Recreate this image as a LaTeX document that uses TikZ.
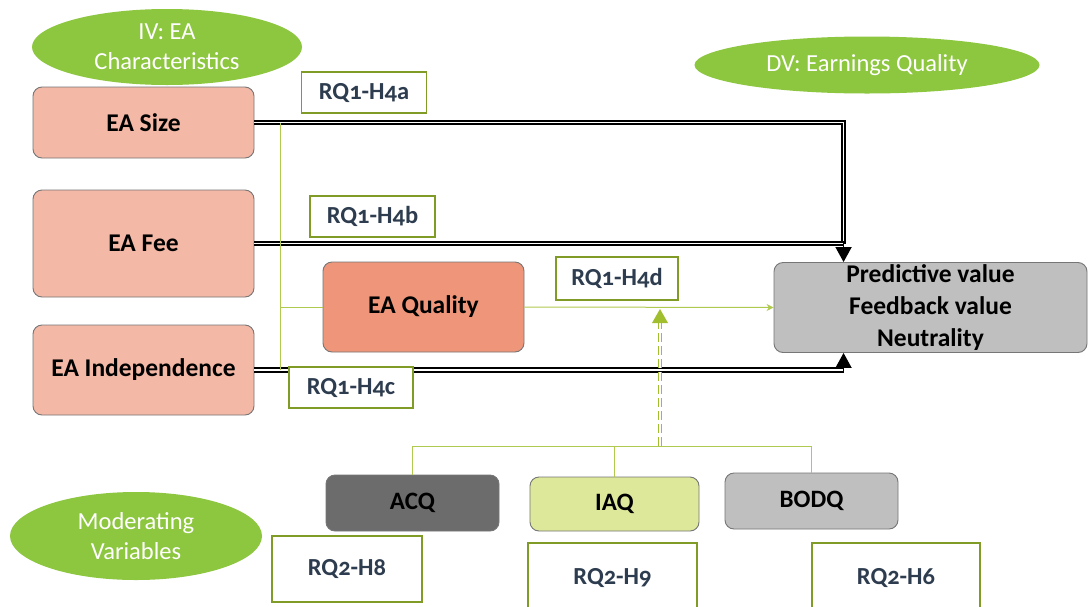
\documentclass[tikz,border=0pt]{standalone}
\usepackage{fontspec}
\setmainfont{Carlito}[Numbers=OldStyle]
\usetikzlibrary{arrows.meta,calc,shapes.geometric}

\definecolor{ovalgreen}{RGB}{141,198,63}
\definecolor{catpink}{RGB}{244,184,166}
\definecolor{qualpink}{RGB}{239,150,122}
\definecolor{boxedge}{RGB}{118,118,118}
\definecolor{outgray}{RGB}{191,191,191}
\definecolor{acqgray}{RGB}{108,108,108}
\definecolor{iaqyellow}{RGB}{221,232,155}
\definecolor{tagline}{RGB}{128,155,38}
\definecolor{tagtext}{RGB}{45,60,78}
\definecolor{linkgreen}{RGB}{176,202,80}
\definecolor{modgreen}{RGB}{160,190,45}

\tikzset{
  oval/.style={ellipse, fill=ovalgreen, draw=none, text=white, inner sep=0pt,
    align=center, font=\fontsize{24.5}{30}\selectfont},
  catbox/.style={draw=boxedge, line width=0.9pt, rounded corners=9pt, fill=catpink,
    inner sep=0pt, align=center, font=\bfseries\fontsize{25.5}{32}\selectfont},
  modbox/.style={catbox, font=\bfseries\fontsize{25}{30}\selectfont},
  tag/.style={draw=tagline, line width=1.4pt, fill=white, text=tagtext, inner sep=0pt,
    font=\bfseries\fontsize{24.5}{28}\selectfont},
  dbl/.style={draw=black, line width=1.8pt, double=white, double distance=1.7pt},
  tipdown/.style={line width=1.6pt, -{Triangle[length=15pt,width=16pt]}},
  gline/.style={draw=linkgreen, line width=1pt},
  modlink/.style={draw=modgreen, line width=1pt, double=white, double distance=2.6pt,
    dash pattern=on 9pt off 4pt}
}

\begin{document}
\begin{tikzpicture}[x=1pt,y=-1pt]
\path[use as bounding box, fill=white] (0,0) rectangle (1088,606);
\clip (0,0) rectangle (1088,606);

% group labels
\node[oval, minimum width=270pt, minimum height=76pt] (iv) at (167,47) {IV: EA\\Characteristics};
\node[oval, minimum width=345pt, minimum height=57pt] (dv) at (867,65) {DV: Earnings Quality};
\node[oval, minimum width=252pt, minimum height=88pt] (mv) at (136,536) {Moderating\\Variables};

% independent variables
\node[catbox, minimum width=221pt, minimum height=71pt] (size) at (143.5,122.5) {EA Size};
\node[catbox, minimum width=221pt, minimum height=107pt] (fee) at (143.5,243.5) {EA Fee};
\node[catbox, minimum width=221pt, minimum height=90pt] (ind) at (143.5,370) {EA Independence};
\node[catbox, fill=qualpink, minimum width=201pt, minimum height=90pt] (qual) at (423.5,307) {EA Quality};

% dependent variable
\node[catbox, fill=outgray, minimum width=313pt, minimum height=90pt] (pv) at (930.5,307.5)
  {Predictive value\\Feedback value\\Neutrality};

% moderators
\node[modbox, fill=acqgray, minimum width=173pt, minimum height=56pt] (acq) at (412.5,503) {ACQ};
\node[modbox, fill=iaqyellow, minimum width=169pt, minimum height=54pt] (iaq) at (614.5,504) {IAQ};
\node[modbox, fill=outgray, minimum width=173pt, minimum height=56pt] (bodq) at (811.5,501) {BODQ};

% hypothesis tags
\node[tag, minimum width=125pt, minimum height=41pt] (h4a) at (364,92.5) {RQ1-H4a};
\node[tag, minimum width=125pt, minimum height=41pt] (h4b) at (372.5,216.5) {RQ1-H4b};
\node[tag, minimum width=122pt, minimum height=43pt] (h4d) at (617,278.5) {RQ1-H4d};

% anchor points on the outcome box
\coordinate (topin) at ($(pv.north west)+(70,0)$);
\coordinate (botin) at ($(pv.south west)+(70,0)$);

% direct effects
\draw[dbl] (size.east) -| ($(topin)+(0,-18)$);
\draw[dbl] (fee.east) -- (fee.east -| topin);
\draw[tipdown] ($(topin)+(0,-20)$) -- (topin);
\draw[dbl] (ind.east) -- (ind.east -| botin);
\draw[tipdown] ($(ind.east -| botin)+(0,1)$) -- (botin);

% mediating path through EA Quality
\coordinate (st) at ($(size.east)+(26,0)$);
\draw[gline] (st) -- (st |- ind.east);
\draw[gline] (st |- qual.west) -- (qual.west);
\draw[gline, -{Stealth[length=7pt,width=7pt]}] (qual.east) -- (pv.west);

% moderating path
\coordinate (bus) at (0,446);
\coordinate (modsrc) at (660,446);
\coordinate (modtip) at (660,309);
\draw[gline] (acq.north) -- (acq.north |- bus) -- (bodq.north |- bus) -- (bodq.north);
\draw[gline] (iaq.north) -- (iaq.north |- bus);
\draw[modlink] (modsrc) -- ($(modtip)+(0,13)$);
\fill[modgreen] (modtip) -- ++(-8,14) -- ++(16,0) -- cycle;

\node[tag, minimum width=124pt, minimum height=41pt] (h4c) at (351,387.5) {RQ1-H4c};
\node[tag, minimum width=150pt, minimum height=66pt] (h8) at (347,569) {RQ2-H8};
\node[tag, minimum width=169pt, minimum height=70pt] (h9) at (612.5,578) {RQ2-H9};
\node[tag, minimum width=168pt, minimum height=70pt] (h6) at (896,578) {RQ2-H6};
\end{tikzpicture}
\end{document}
